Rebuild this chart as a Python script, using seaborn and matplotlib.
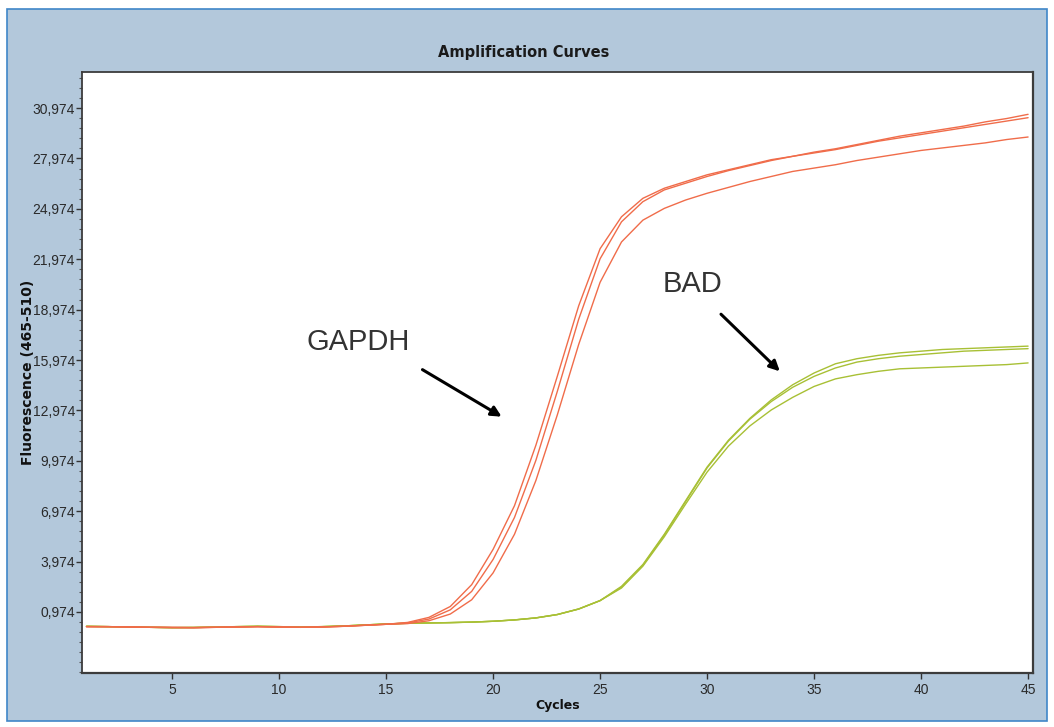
# Amplification curves (qPCR) - GAPDH vs BAD
import pandas as pd
import seaborn as sns
import matplotlib.pyplot as plt
from matplotlib.patches import Rectangle
from matplotlib.ticker import FixedLocator, AutoMinorLocator

# data: fluorescence per cycle (1..45)
cycles = list(range(1, 46))

base = [0.10, 0.10, 0.08, 0.06, 0.05, 0.04, 0.06, 0.08, 0.10, 0.08,
        0.06, 0.08, 0.12, 0.18, 0.24]

gapdh_1 = base + [0.35, 0.65, 1.3, 2.6, 4.7, 7.3, 10.9, 15.0, 19.2, 22.6,
                  24.5, 25.6, 26.2, 26.6, 27.0, 27.3, 27.6, 27.9, 28.1, 28.3,
                  28.5, 28.75, 29.0, 29.2, 29.4, 29.6, 29.8, 30.0, 30.2, 30.4]
gapdh_2 = base + [0.32, 0.55, 1.1, 2.2, 4.1, 6.6, 10.0, 14.1, 18.4, 22.0,
                  24.2, 25.4, 26.1, 26.5, 26.9, 27.25, 27.55, 27.85, 28.1, 28.35,
                  28.55, 28.8, 29.05, 29.3, 29.5, 29.7, 29.9, 30.15, 30.35, 30.6]
gapdh_3 = base + [0.28, 0.45, 0.85, 1.7, 3.3, 5.6, 8.8, 12.7, 16.9, 20.6,
                  23.0, 24.3, 25.0, 25.5, 25.9, 26.25, 26.6, 26.9, 27.2, 27.4,
                  27.6, 27.85, 28.05, 28.25, 28.45, 28.6, 28.75, 28.9, 29.1, 29.25]

bad_base = [0.12, 0.10, 0.08, 0.06, 0.04, 0.05, 0.07, 0.10, 0.12, 0.10,
            0.08, 0.10, 0.14, 0.20, 0.26, 0.30, 0.32, 0.34, 0.37, 0.42,
            0.50, 0.62, 0.82, 1.15, 1.65]
bad_1 = bad_base + [2.5, 3.8, 5.6, 7.6, 9.6, 11.2, 12.5, 13.6, 14.5, 15.2,
                    15.75, 16.05, 16.25, 16.4, 16.5, 16.6, 16.65, 16.7, 16.75, 16.8]
bad_2 = bad_base + [2.45, 3.75, 5.55, 7.55, 9.55, 11.15, 12.45, 13.5, 14.35, 15.0,
                    15.5, 15.85, 16.05, 16.2, 16.3, 16.4, 16.5, 16.55, 16.6, 16.65]
bad_3 = bad_base + [2.4, 3.7, 5.45, 7.4, 9.3, 10.85, 12.05, 13.0, 13.75, 14.4,
                    14.85, 15.1, 15.3, 15.45, 15.5, 15.55, 15.6, 15.65, 15.7, 15.8]

runs = {'BAD 1': bad_1, 'BAD 2': bad_2, 'BAD 3': bad_3,
        'GAPDH 1': gapdh_1, 'GAPDH 2': gapdh_2, 'GAPDH 3': gapdh_3}

y_ticks = [0.974 + 3 * i for i in range(11)]
x_ticks = [5, 10, 15, 20, 25, 30, 35, 40, 45]

# long format for seaborn
rows = []
for name, vals in runs.items():
    for c, v in zip(cycles, vals):
        rows.append({'cycle': c, 'fluor': v, 'run': name})
df = pd.DataFrame(rows)

orange = '#f06c4a'
green = '#a8c035'
palette = {k: (orange if k.startswith('GAPDH') else green) for k in runs}

sns.set_style('white')
plt.rcParams['font.family'] = ['DejaVu Sans']

fig = plt.figure(figsize=(10.54, 7.27), dpi=100)
fig.patch.set_facecolor('white')
# blue panel behind the chart
fig.patches.append(Rectangle((7 / 1054, 1 - 721 / 727), 1040 / 1054, 712 / 727,
                             transform=fig.transFigure, facecolor='#b3c8db',
                             edgecolor='#3f86c8', linewidth=1.2, zorder=-1))

ax = fig.add_axes([82 / 1054, 1 - 673 / 727, 951 / 1054, 601 / 727])
ax.set_facecolor('white')

sns.lineplot(data=df, x='cycle', y='fluor', hue='run', palette=palette,
             estimator=None, linewidth=1.0, legend=False, ax=ax)

ax.set_xlim(0.79, 45.23)
ax.set_ylim(-2.66, 33.12)

ax.yaxis.set_major_locator(FixedLocator(y_ticks))
ax.set_yticklabels([f'{v:.3f}'.replace('.', ',') for v in y_ticks])
ax.yaxis.set_minor_locator(AutoMinorLocator(5))
ax.set_xticks(x_ticks)
ax.set_xticklabels([str(x) for x in x_ticks])

tick_font = ['Liberation Sans', 'DejaVu Sans']
for lab in ax.get_xticklabels() + ax.get_yticklabels():
    lab.set_family(tick_font)
    lab.set_fontsize(10)
    lab.set_color('#2a2a2a')

ax.tick_params(axis='y', which='major', direction='out', length=4, width=1,
               color='#333333', pad=1, left=True)
ax.tick_params(axis='y', which='minor', direction='out', length=2, width=0.8,
               color='#555555', left=True)
ax.tick_params(axis='x', which='major', direction='out', length=4, width=1,
               color='#333333', pad=3, bottom=True)

for side, sp in ax.spines.items():
    sp.set_visible(True)
    sp.set_color('#3c3c3c')
    sp.set_linewidth(1.6 if side in ('right', 'bottom') else 1.3)

ax.set_xlabel('Cycles', fontsize=9, fontweight='bold', color='#111111', labelpad=2)
ax.set_ylabel('Fluorescence (465-510)', fontsize=10, fontweight='bold',
              color='#111111')
ax.yaxis.set_label_coords(-47 / 951, 0.5)

fig.text(524 / 1054, 1 - 52 / 727, 'Amplification Curves', ha='center',
         va='center', fontsize=10.5, fontweight='bold', color='#1a1a1a')

# annotations
ann_font = ['Liberation Sans', 'DejaVu Sans']
ax.text(13.7, 17.05, 'GAPDH', ha='center', va='center', fontsize=21,
        family=ann_font, color='#333333')
ax.annotate('', xy=(20.4, 12.6), xytext=(16.7, 15.4),
            arrowprops=dict(arrowstyle='-|>', color='black', lw=2.2,
                            mutation_scale=15, shrinkA=0, shrinkB=0))
ax.text(29.3, 20.5, 'BAD', ha='center', va='center', fontsize=21,
        family=ann_font, color='#333333')
ax.annotate('', xy=(33.4, 15.3), xytext=(30.65, 18.7),
            arrowprops=dict(arrowstyle='-|>', color='black', lw=2.2,
                            mutation_scale=15, shrinkA=0, shrinkB=0))

fig.savefig('out.png', dpi=100)
